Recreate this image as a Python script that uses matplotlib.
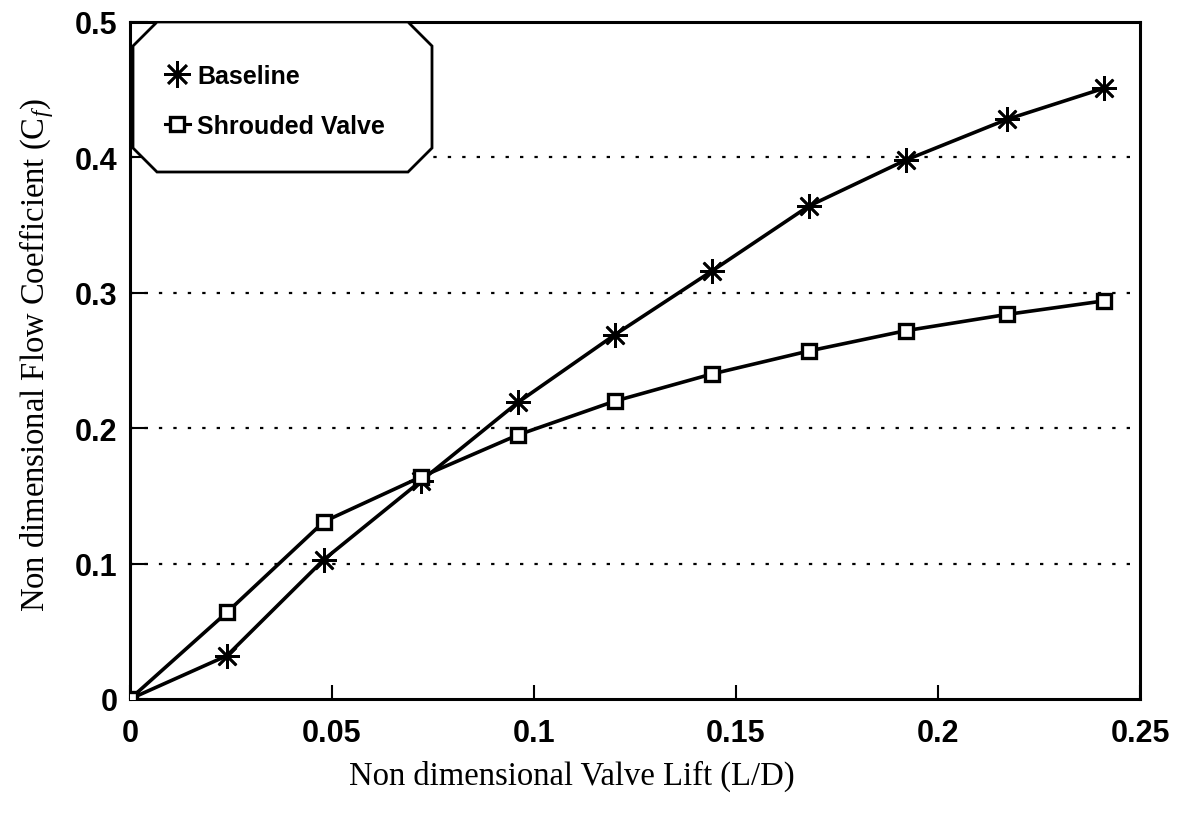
import matplotlib
matplotlib.use("Agg")
import matplotlib.pyplot as plt
from matplotlib.patches import Polygon
from matplotlib.lines import Line2D

# ---- data ----
valve_lift = [0, 0.024, 0.048, 0.072, 0.096, 0.120, 0.144, 0.168, 0.192, 0.217, 0.241]
baseline = [0, 0.032, 0.103, 0.161, 0.219, 0.269, 0.316, 0.364, 0.398, 0.428, 0.451]
shrouded = [0, 0.064, 0.131, 0.164, 0.195, 0.220, 0.240, 0.257, 0.272, 0.284, 0.294]
x_ticks = [0, 0.05, 0.1, 0.15, 0.2, 0.25]
x_ticklabels = ["0", "0.05", "0.1", "0.15", "0.2", "0.25"]
y_ticks = [0, 0.1, 0.2, 0.3, 0.4, 0.5]
y_ticklabels = ["0", "0.1", "0.2", "0.3", "0.4", "0.5"]
grid_levels = [0.1, 0.2, 0.3, 0.4]
series_names = ["Baseline", "Shrouded Valve"]
x_label = "Non dimensional Valve Lift (L/D)"
y_label = "Non dimensional Flow Coefficient (C$_{f}$)"

plt.rcParams["mathtext.fontset"] = "custom"
plt.rcParams["mathtext.rm"] = "Liberation Serif"
plt.rcParams["mathtext.it"] = "Liberation Serif:italic"

W, H = 1182, 820
fig = plt.figure(figsize=(W / 100, H / 100), dpi=100)
L, R, T, B = 130, 1140, 23, 700
ax = fig.add_axes([L / W, 1 - B / H, (R - L) / W, (B - T) / H])

ax.set_xlim(0, 0.25)
ax.set_ylim(0, 0.5)

for g in grid_levels:
    ax.axhline(g, color="black", lw=1.6, linestyle=(0, (1.5, 5.0)), zorder=1)

ax.plot(valve_lift, baseline, color="black", lw=2.6, marker=(8, 2, 0),
        markersize=18, markeredgewidth=1.9, zorder=3, label=series_names[0])
ax.plot(valve_lift, shrouded, color="black", lw=2.6, marker="s",
        markersize=10.5, markeredgewidth=2.4, markerfacecolor="white", zorder=3,
        label=series_names[1])

# octagonal legend frame
axw, axh = R - L, B - T
c = 24
lx0, lx1 = 3 / axw, (432 - L) / axw
ly1, ly0 = 1.0, (B - 173) / axh
dx, dy = c / axw, c / axh
poly = Polygon([(lx0 + dx, ly1), (lx1 - dx, ly1), (lx1, ly1 - dy), (lx1, ly0 + dy),
                (lx1 - dx, ly0), (lx0 + dx, ly0), (lx0, ly0 + dy), (lx0, ly1 - dy)],
               closed=True, transform=ax.transAxes, facecolor="white",
               edgecolor="black", lw=2.0, zorder=4)
ax.add_patch(poly)

handles = [
    Line2D([], [], color="black", lw=0, marker=(8, 2, 0), markersize=19, markeredgewidth=1.9),
    Line2D([], [], color="black", lw=2.2, marker="s", markersize=10,
           markeredgewidth=2.4, markerfacecolor="white"),
]
leg = ax.legend(handles, series_names, loc="upper left",
                bbox_to_anchor=((152 - L) / axw, (B - 52) / axh),
                frameon=False, handlelength=1.0, handletextpad=0.3,
                labelspacing=1.05, borderpad=0,
                prop={"family": "Liberation Sans", "weight": "bold", "size": 18})
leg.set_zorder(5)

ax.set_xticks(x_ticks)
ax.set_xticklabels(x_ticklabels)
ax.set_yticks(y_ticks)
ax.set_yticklabels(y_ticklabels)
ax.tick_params(axis="x", direction="in", length=10, width=1.5, pad=14)
ax.tick_params(axis="y", direction="in", length=13, width=1.5, pad=9)
for lab in ax.get_xticklabels() + ax.get_yticklabels():
    lab.set_fontfamily("Liberation Sans")
    lab.set_fontweight("bold")
    lab.set_fontsize(22)

for s in ax.spines.values():
    s.set_linewidth(2.2)

ax.set_xlabel(x_label, fontfamily="Liberation Serif", fontsize=23.5)
ax.set_ylabel(y_label, fontfamily="Liberation Serif", fontsize=23.5)
ax.xaxis.set_label_coords((572 - L) / axw, -(776 - B) / axh)
ax.yaxis.set_label_coords(-(L - 37) / axw, (B - 355) / axh)
ax.xaxis.label.set_va("center")
ax.yaxis.label.set_va("center")

fig.savefig("out.png", dpi=100, facecolor="white")
